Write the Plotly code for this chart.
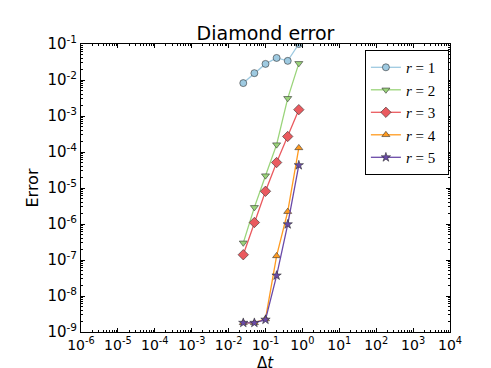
import plotly.graph_objects as go

# time step sizes
dt = [0.025, 0.05, 0.1, 0.2, 0.4, 0.8]

# errors for each r
err_r1 = [8.2e-3, 1.55e-2, 2.8e-2, 4.1e-2, 3.4e-2, 1.0e-1]
err_r2 = [3.0e-7, 2.9e-6, 2.2e-5, 1.6e-4, 3.1e-3, 2.9e-2]
err_r3 = [1.4e-7, 1.1e-6, 8.1e-6, 5.1e-5, 2.7e-4, 1.5e-3]
err_r4 = [1.8e-9, 1.8e-9, 2.3e-9, 1.3e-7, 2.2e-6, 1.3e-4]
err_r5 = [1.8e-9, 1.8e-9, 2.2e-9, 3.7e-8, 9.8e-7, 4.3e-5]

labels = ['1', '2', '3', '4', '5']
series = [err_r1, err_r2, err_r3, err_r4, err_r5]
colors = ['#9ecae1', '#9ad47a', '#ea5a5f', '#ff9a1f', '#6a4aa8']
symbols = ['circle', 'triangle-down', 'diamond', 'triangle-up', 'star']
sizes = [7, 7, 8, 7, 7]

# decade tick labels
x_exps = list(range(-6, 5))
y_exps = list(range(-9, 0))

fig = go.Figure()

for lab, err, col, sym, sz in zip(labels, series, colors, symbols, sizes):
    fig.add_trace(go.Scatter(
        x=dt,
        y=err,
        mode='lines+markers',
        name=f'<i>r</i> = {lab}  ',
        line=dict(color=col, width=1.3),
        marker=dict(symbol=sym, size=sz, color=col,
                    line=dict(color='#333333', width=0.6))
    ))

axis_style = dict(
    type='log',
    showgrid=False,
    zeroline=False,
    showline=True,
    linecolor='black',
    linewidth=1,
    mirror='ticks',
    ticks='inside',
    ticklen=4,
    tickcolor='black',
    tickangle=0,
    automargin=False,
    tickfont=dict(size=15, color='black'),
    minor=dict(ticks='inside', ticklen=2, tickcolor='black', dtick='D1', showgrid=False),
)

fig.update_layout(
    width=491,
    height=368,
    margin=dict(l=73, r=49, t=36, b=44),
    plot_bgcolor='white',
    paper_bgcolor='white',
    font=dict(family='DejaVu Sans', size=14, color='black'),
    title=dict(text='Diamond error', x=(73 + 442) / 2 / 491, xanchor='center',
               y=1 - 25 / 368, yanchor='middle', font=dict(size=19)),
    xaxis=dict(axis_style, range=[-6, 4], tickmode='array',
               tickvals=[10.0 ** e for e in x_exps],
               ticktext=[f'10<sup>{e}</sup>' for e in x_exps],
               tickfont=dict(size=14, color='black')),
    yaxis=dict(axis_style, range=[-9, -1], tickmode='array',
               tickvals=[10.0 ** e for e in y_exps],
               ticktext=[f'10<sup>{e}</sup>' for e in y_exps],
               title=dict(text='Error', standoff=4, font=dict(size=16))),
    legend=dict(
        x=0.997, xanchor='right', y=0.979, yanchor='top',
        bordercolor='black', borderwidth=1, bgcolor='white',
        font=dict(family='Liberation Serif', size=15),
        itemwidth=30,
    ),
)

# x axis label placed just under the tick labels
fig.add_annotation(
    text='Δ<i>t</i>', xref='paper', yref='paper',
    x=0.5, y=-(355 - 324) / 288, xanchor='center', yanchor='middle',
    showarrow=False, font=dict(size=15), borderpad=0
)

fig.write_html("out.html")
